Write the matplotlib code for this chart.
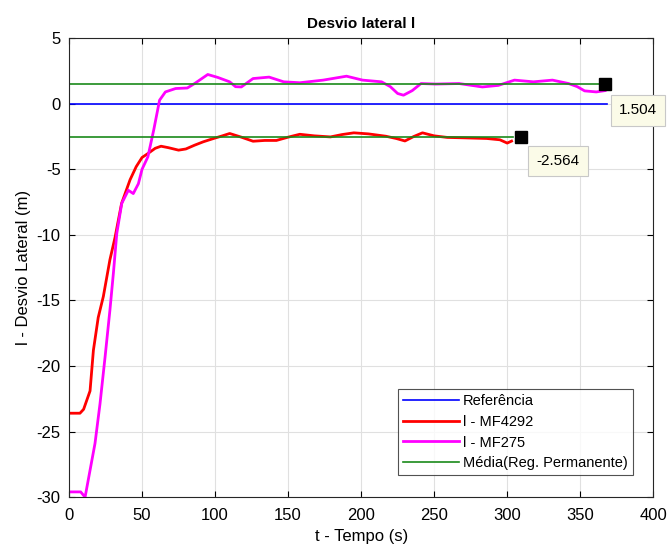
import numpy as np
import matplotlib
matplotlib.use('Agg')
from matplotlib import pyplot as plt

plt.rcParams['font.family'] = ['Liberation Sans', 'DejaVu Sans']
plt.rcParams['axes.unicode_minus'] = False

# l - MF4292 (red)
t_red = [0, 7.5, 10, 14.4, 16.7, 20, 23.5, 28, 31.5, 36, 41.8, 46, 50, 54, 59, 63, 68, 75,
         80, 86, 92, 99, 105, 110, 118, 126, 134, 142, 150, 158, 168, 179, 187, 195,
         205, 217, 224, 230, 236, 242, 250, 259, 270, 286, 295, 300, 303]
y_red = [-23.6, -23.6, -23.3, -21.9, -18.8, -16.3, -14.7, -11.9, -10.2, -7.6, -5.8, -4.8,
         -4.1, -3.8, -3.4, -3.24, -3.35, -3.54, -3.45, -3.16, -2.9, -2.65, -2.45, -2.27,
         -2.55, -2.86, -2.8, -2.8, -2.55, -2.33, -2.45, -2.53, -2.35, -2.22, -2.3, -2.48,
         -2.65, -2.84, -2.5, -2.22, -2.45, -2.57, -2.6, -2.65, -2.75, -3.0, -2.85]

# l - MF275 (magenta)
t_mag = [0, 8, 11, 14.4, 17.8, 21.2, 24.7, 28, 30.4, 32.7, 36.1, 40.6, 44, 47.5, 50, 54,
         58, 62, 66, 73, 81, 86, 95, 102, 110, 114, 118, 126, 137, 147, 158, 174, 190,
         201, 214, 220, 225, 229, 235, 241, 251, 267, 283, 294, 305, 318, 331, 342,
         348, 353, 361, 367]
y_mag = [-29.6, -29.6, -30.0, -27.95, -25.9, -22.9, -19.3, -15.75, -12.9, -9.9, -7.6, -6.6,
         -6.85, -6.1, -5.0, -4.05, -2.0, 0.27, 0.9, 1.16, 1.2, 1.54, 2.23, 2.0, 1.67, 1.3,
         1.28, 1.92, 2.03, 1.67, 1.6, 1.8, 2.1, 1.8, 1.67, 1.3, 0.78, 0.65, 1.0, 1.54,
         1.5, 1.54, 1.28, 1.4, 1.8, 1.67, 1.8, 1.54, 1.3, 0.98, 0.9, 1.0]

t_ref = [0, 368]
y_ref = [0, 0]

mean_red = -2.564
mean_mag = 1.504
t_end_red = 304
t_end_mag = 363
t_mark_red = 309.5
t_mark_mag = 367

fig = plt.figure(figsize=(6.7, 5.53), dpi=100)
ax = fig.add_axes([0.103, 0.101, 0.872, 0.830])

ax.plot(t_ref, y_ref, color='#0000ff', lw=1.2, label='Referência')
ax.plot(t_red, y_red, color='#ff0000', lw=2, label='l - MF4292')
ax.plot(t_mag, y_mag, color='#ff00ff', lw=2, label='l - MF275')
ax.plot([0, t_end_red], [mean_red, mean_red], color='#1a8a1a', lw=1.2,
        label='Média(Reg. Permanente)')
ax.plot([0, t_end_mag], [mean_mag, mean_mag], color='#1a8a1a', lw=1.2)

ax.plot([t_mark_red], [mean_red], 's', color='black', ms=8)
ax.plot([t_mark_mag], [mean_mag], 's', color='black', ms=8)

bbox = dict(boxstyle='square,pad=0.55', fc='#fbfbe8', ec='#c8c8c8', lw=0.8)
ax.annotate(f'{mean_red:.3f}', (t_mark_red, mean_red), xytext=(11, -17),
            textcoords='offset points', fontsize=11, bbox=bbox, va='center',
            annotation_clip=False)
ax.annotate(f'{mean_mag:.3f}', (t_mark_mag, mean_mag), xytext=(10, -19),
            textcoords='offset points', fontsize=11, bbox=bbox, va='center',
            annotation_clip=False)

ax.set_xlim(0, 400)
ax.set_ylim(-30, 5)
ax.set_xticks(np.arange(0, 401, 50))
ax.set_yticks(np.arange(-30, 6, 5))
ax.tick_params(direction='in', labelsize=12, length=4, top=True, right=True,
               labeltop=False, labelright=False)
ax.tick_params(axis='x', pad=8)
ax.tick_params(axis='y', pad=6)
ax.grid(True, color='#e0e0e0', lw=0.8)
ax.set_axisbelow(True)
for s in ax.spines.values():
    s.set_color('#262626')
    s.set_linewidth(0.8)

ax.set_title('Desvio lateral l', fontsize=11, fontweight='bold', pad=7)
ax.set_xlabel('t - Tempo (s)', fontsize=12, labelpad=4)
ax.set_ylabel('l - Desvio Lateral (m)', fontsize=12, labelpad=4)

leg = ax.legend(loc='lower right', bbox_to_anchor=(0.975, 0.035), fontsize=10.5,
                fancybox=False, edgecolor='#262626', handlelength=3.8,
                handletextpad=0.3, borderaxespad=0.4, labelspacing=0.45,
                borderpad=0.35)
leg.get_frame().set_linewidth(0.8)

fig.savefig('out.png', dpi=100)
